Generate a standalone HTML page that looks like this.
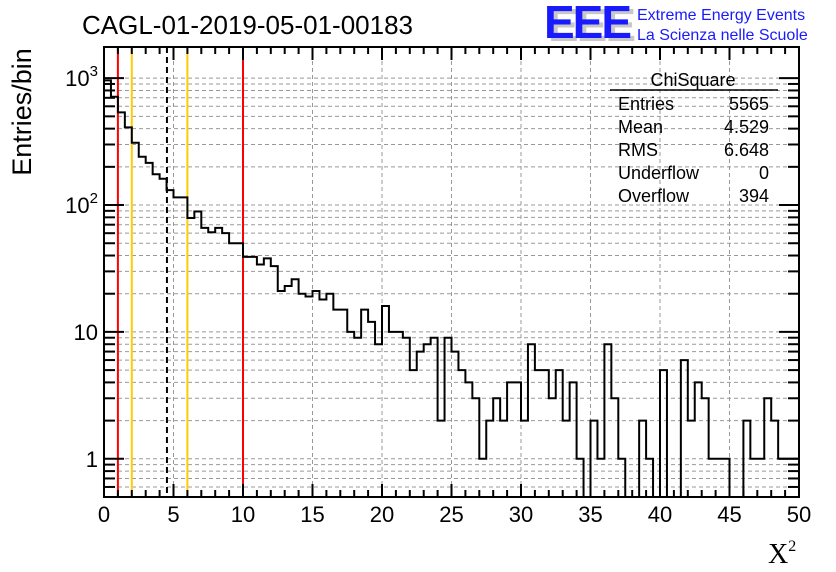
<!DOCTYPE html>
<html><head><meta charset="utf-8"><style>
html,body{margin:0;padding:0;background:#fff;}
svg{display:block;font-family:"Liberation Sans",sans-serif;}
</style></head><body>
<svg id="chart" width="836" height="572" viewBox="0 0 836 572">
<rect x="0" y="0" width="836" height="572" fill="#fff"/>
<g id="grid"></g>
<g id="marks"></g>
<g id="hist"></g>
<g id="axes"></g>
<text x="82" y="34" font-size="26">CAGL-01-2019-05-01-00183</text>
<text transform="translate(31,112) rotate(-90)" font-size="27" text-anchor="middle">Entries/bin</text>
<text x="768" y="563" font-size="28" font-family="Liberation Serif,serif">X<tspan font-size="16" dy="-12">2</tspan></text>
<g>
<text x="548" y="41" font-size="46" font-weight="bold" fill="#c8c8c8" letter-spacing="-2">EEE</text>
<text x="544" y="38" font-size="46" font-weight="bold" fill="#1a1aff" letter-spacing="-2">EEE</text>
<text x="637" y="20" font-size="16" fill="#1a1aff">Extreme Energy Events</text>
<text x="637" y="40" font-size="16" fill="#1a1aff">La Scienza nelle Scuole</text>
</g>
<g font-size="18">
<text x="693" y="86" text-anchor="middle">ChiSquare</text>
<line x1="610" y1="90" x2="778" y2="90" stroke="#000" stroke-width="1.5"/>
<text x="618" y="110">Entries</text><text x="769" y="110" text-anchor="end">5565</text>
<text x="618" y="133">Mean</text><text x="769" y="133" text-anchor="end">4.529</text>
<text x="618" y="156">RMS</text><text x="769" y="156" text-anchor="end">6.648</text>
<text x="618" y="179">Underflow</text><text x="769" y="179" text-anchor="end">0</text>
<text x="618" y="202">Overflow</text><text x="769" y="202" text-anchor="end">394</text>
</g>
</svg>
<script>
const binLow = 0, binWidth = 0.5;
const counts = [960,713,537,409,310,240,215,175,161,131,115,115,79,89,66,61,66,60,50,50,39,39,34,38,33,21,23,26,20,19,21,18,20,15,15,10,9,15,12,8,16,10,10,9,5,7,8,9,2,9,7,5,4,3,1,2,3,2,4,4,2,8,5,5,3,5,2,4,1,0,2,1,8,3,1,0,0,2,1,0,5,0,0,6,2,4,3,1,1,1,0,0,2,1,1,3,2,1,1,1];
const xTicks = [0,5,10,15,20,25,30,35,40,45,50];
const yTickVals = [1,10,100,1000];
const yTickLabels = ["1","10","10²","10³"];
const redLines = [1,10];
const yellowLines = [2,6];
const meanLine = [4.529];

const L=104,R=799,T=47,B=497;
const xMin=0,xMax=50,yMin=0.5,yMax=1760;
const NS="http://www.w3.org/2000/svg";
function sx(v){return L+(v-xMin)/(xMax-xMin)*(R-L);}
function sy(v){ if(v<=0) return B+20; return B-(Math.log10(v)-Math.log10(yMin))/(Math.log10(yMax)-Math.log10(yMin))*(B-T);}
function mk(tag,attrs,parent){const e=document.createElementNS(NS,tag);for(const k in attrs)e.setAttribute(k,attrs[k]);parent.appendChild(e);return e;}
const grid=document.getElementById('grid'),axes=document.getElementById('axes'),hist=document.getElementById('hist'),marks=document.getElementById('marks');

xTicks.forEach(t=>{ if(t>xMin&&t<xMax){const l=mk('line',{x1:sx(t),x2:sx(t),y1:T,y2:B,stroke:'#999','stroke-dasharray':'4,3','stroke-width':1},grid);

}});
for(let d=-1;d<=3;d++){for(let m=1;m<=9;m++){const v=m*Math.pow(10,d);if(v<=yMin||v>=yMax)continue;
const l=mk('line',{x1:L,x2:R,y1:sy(v),y2:sy(v),stroke:'#999','stroke-dasharray':'4,3','stroke-width':1},grid);


const tl=m===1?20:11;
const a=mk('line',{x1:L,x2:L+tl,y1:sy(v),y2:sy(v),stroke:'#000','stroke-width':2},axes);


const b=mk('line',{x1:R,x2:R-tl,y1:sy(v),y2:sy(v),stroke:'#000','stroke-width':2},axes);


}}
redLines.forEach(v=>{const l=mk('line',{x1:sx(v),x2:sx(v),y1:T,y2:B,stroke:'#f00','stroke-width':2},marks);

});
yellowLines.forEach(v=>{const l=mk('line',{x1:sx(v),x2:sx(v),y1:T,y2:B,stroke:'#fc0','stroke-width':2},marks);

});
meanLine.forEach(v=>{const l=mk('line',{x1:sx(v),x2:sx(v),y1:T,y2:B,stroke:'#000','stroke-width':2,'stroke-dasharray':'6,4'},marks);

});
const cp=mk('clipPath',{id:'plotclip'},hist);mk('rect',{x:L,y:T,width:R-L,height:B-T},cp);
let d='M'+sx(binLow)+','+(B+20);
counts.forEach((c,i)=>{const x0=sx(binLow+i*binWidth),x1=sx(binLow+(i+1)*binWidth),y=sy(c);d+=' L'+x0+','+y+' L'+x1+','+y;});
d+=' L'+sx(binLow+counts.length*binWidth)+','+(B+20);
const p=mk('path',{d:d,fill:'none',stroke:'#000','stroke-width':2,'clip-path':'url(#plotclip)'},hist);


const fr=mk('rect',{x:L,y:T,width:R-L,height:B-T,fill:'none',stroke:'#000','stroke-width':2},axes);


for(let v=xMin;v<=xMax;v+=1){const major=v%5===0;const tl=major?13:7;
const a=mk('line',{x1:sx(v),x2:sx(v),y1:B,y2:B-tl,stroke:'#000','stroke-width':2},axes);


const b=mk('line',{x1:sx(v),x2:sx(v),y1:T,y2:T+tl,stroke:'#000','stroke-width':2},axes);

}
xTicks.forEach(t=>{const e=mk('text',{x:sx(t),y:B+25,'font-size':22,'text-anchor':'middle'},axes);e.textContent=String(t);

});
yTickVals.forEach((v,i)=>{const e=mk('text',{x:L-6,y:sy(v)+8,'font-size':22,'text-anchor':'end'},axes);
const lab=yTickLabels[i];
if(lab.length>2&&lab.startsWith('10')){e.textContent='10';const ts=mk('tspan',{'font-size':15,dy:-10},e);ts.textContent=lab==='10²'?'2':'3';}
else e.textContent=lab;

});
</script>
</body></html>
